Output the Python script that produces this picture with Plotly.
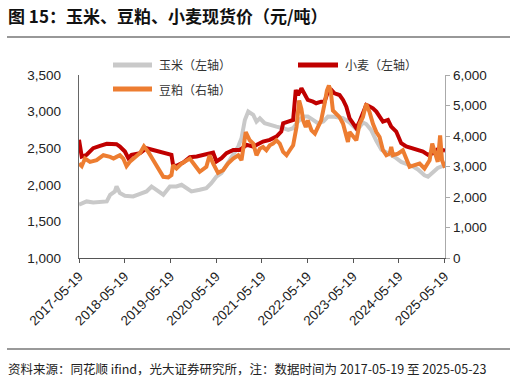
import plotly.graph_objects as go

# ---------------- data ----------------
corn_dates = ["2017-05-19","2017-07-19","2017-09-10","2017-11-03","2017-12-27","2018-01-23","2018-03-02","2018-03-15",
              "2018-04-11","2018-05-21","2018-07-26","2018-09-19","2018-11-10","2018-12-20","2019-01-30","2019-03-24",
              "2019-05-16","2019-07-07","2019-08-17","2019-09-26","2019-11-04","2020-01-09","2020-03-02","2020-04-11",
              "2020-05-22","2020-07-01","2020-08-10","2020-10-03","2020-11-12","2020-12-08","2021-01-04","2021-01-31",
              "2021-03-12","2021-04-07","2021-05-04","2021-06-11","2021-07-22","2021-09-13","2021-11-06","2021-12-16",
              "2022-01-25","2022-03-05","2022-04-15","2022-05-22","2022-07-03","2022-08-11","2022-09-23","2022-10-30",
              "2022-12-22","2023-02-28","2023-04-21","2023-06-14","2023-07-10","2023-08-06","2023-09-01","2023-10-10",
              "2023-11-21","2024-01-01","2024-02-22","2024-04-15","2024-06-07","2024-07-17","2024-09-09","2024-10-19",
              "2024-12-10","2025-01-07","2025-02-16","2025-03-26","2025-05-23"]
corn_values = [1727,1773,1759,1764,1773,1864,1909,1977,
               1886,1850,1841,1877,1909,1977,1932,1864,
               1977,1977,2000,1955,1909,1932,1955,2023,
               2114,2159,2273,2409,2523,2636,2886,3000,
               2955,2864,2909,2841,2818,2795,2773,2750,
               2773,2864,2932,2932,2886,2841,2864,2932,
               2930,2910,2850,2760,2790,2850,2830,2750,
               2600,2480,2430,2380,2313,2290,2250,2210,
               2130,2110,2180,2230,2270]

wheat_dates = ["2017-05-19","2017-06-10","2017-07-19","2017-09-10","2017-11-03","2017-12-27","2018-03-15","2018-04-11",
               "2018-05-21","2018-06-17","2018-07-13","2018-09-19","2018-11-10","2019-01-03","2019-02-25","2019-04-19",
               "2019-05-28","2019-06-10","2019-07-07","2019-08-30","2019-10-22","2019-12-16","2020-02-06","2020-03-17",
               "2020-04-25","2020-05-22","2020-07-01","2020-08-10","2020-10-03","2020-11-25","2021-01-19","2021-03-12",
               "2021-05-04","2021-05-29","2021-07-22","2021-09-13","2021-10-22","2021-11-06","2021-12-16","2022-01-25",
               "2022-02-15","2022-03-05","2022-04-01","2022-04-28","2022-05-22","2022-07-03","2022-07-28","2022-09-06",
               "2022-10-03","2022-10-30","2022-11-27","2022-12-22","2023-01-31","2023-02-28","2023-03-26","2023-04-21",
               "2023-05-19","2023-06-14","2023-07-10","2023-08-06","2023-09-01","2023-09-28","2023-10-25","2023-11-21",
               "2023-12-17","2024-01-13","2024-02-22","2024-03-19","2024-04-28","2024-06-07","2024-07-17","2024-09-09",
               "2024-10-19","2024-11-28","2025-01-07","2025-02-16","2025-03-26","2025-05-23"]
wheat_values = [2614,2386,2410,2500,2532,2560,2555,2523,
                2455,2364,2410,2432,2500,2477,2455,2432,
                2410,2273,2260,2305,2377,2386,2410,2432,
                2440,2318,2364,2432,2477,2477,2545,2523,
                2568,2591,2614,2659,2727,2841,2864,2886,
                3295,3227,3318,3227,3159,3136,3114,3136,
                3136,3273,3295,3250,3227,3159,3068,2909,
                2841,2773,2864,3000,3091,3068,3045,3000,
                2932,2864,2886,2795,2727,2568,2523,2500,
                2477,2455,2409,2432,2486,2468]

meal_dates = ["2017-05-19","2017-06-10","2017-07-06","2017-08-15","2017-10-07","2017-11-30","2018-01-23","2018-02-19",
              "2018-03-15","2018-04-11","2018-05-08","2018-06-03","2018-06-29","2018-08-08","2018-09-19","2018-10-20",
              "2018-11-24","2019-01-03","2019-02-13","2019-03-24","2019-05-03","2019-05-28","2019-06-10","2019-07-07",
              "2019-08-17","2019-09-26","2019-10-22","2019-12-01","2020-01-09","2020-03-02","2020-03-28","2020-04-25",
              "2020-06-03","2020-07-14","2020-08-22","2020-10-03","2020-11-12","2020-12-08","2021-01-11","2021-02-12",
              "2021-03-12","2021-04-07","2021-05-04","2021-05-29","2021-06-25","2021-07-22","2021-08-17","2021-09-13",
              "2021-10-10","2021-11-06","2021-12-03","2021-12-29","2022-01-25","2022-02-21","2022-03-14","2022-04-01",
              "2022-04-15","2022-05-06","2022-05-22","2022-06-21","2022-07-18","2022-08-11","2022-09-06","2022-10-03",
              "2022-10-22","2022-11-07","2022-11-21","2022-12-09","2023-01-05","2023-01-31","2023-02-28","2023-03-26",
              "2023-04-08","2023-04-21","2023-05-19","2023-06-14","2023-07-10","2023-08-06","2023-09-01","2023-09-28",
              "2023-10-25","2023-11-21","2023-12-17","2024-01-13","2024-02-09","2024-03-07","2024-03-19","2024-04-02",
              "2024-05-12","2024-06-20","2024-07-17","2024-08-13","2024-09-22","2024-11-01","2024-12-10","2025-01-20",
              "2025-02-10","2025-02-28","2025-03-26","2025-04-14","2025-04-29","2025-05-23"]
meal_values = [3098,3011,3261,3152,3206,3370,3315,3261,
               3315,3370,3261,3011,3152,3315,3446,3663,
               3478,3206,2935,2663,2641,2717,3043,2935,
               3098,3206,3261,3043,2826,2989,3370,3098,
               2793,2880,3098,3261,3370,3206,4130,3858,
               3750,3370,3587,3641,3533,3696,3750,3859,
               3750,3478,3370,3533,3696,4293,5163,4891,
               4511,4293,4511,4185,4076,4293,4511,5054,
               5489,5652,5489,4837,4728,4620,4402,4022,
               3804,4130,3967,3859,4402,4620,5054,4783,
               4402,4130,3967,3533,3370,3424,3641,3370,
               3424,3533,3261,2989,3043,3098,2935,3206,
               3750,3533,3152,4022,3206,2957]

tick_dates = ["2017-05-19","2018-05-19","2019-05-19","2020-05-19","2021-05-19",
              "2022-05-19","2023-05-19","2024-05-19","2025-05-19"]

series_names = ["玉米（左轴）", "小麦（左轴）", "豆粕（右轴）"]
title_text = "图 15：玉米、豆粕、小麦现货价（元/吨）"
source_text = "资料来源：同花顺 ifind，光大证券研究所，注：数据时间为 2017-05-19 至 2025-05-23"

# ---------------- styles ----------------
GRAY = "#C9C9C9"
RED = "#C00000"
ORANGE = "#ED7D31"
LW = 4
CJK = "Noto Sans CJK SC"
NUM = "Liberation Sans, Arial, sans-serif"

W, H = 516, 381
L, R, T, B = 79, 71, 75, 123
pw, ph = W - L - R, H - T - B

def px(x):
    return (x - L) / pw

def py(y):
    return (H - B - y) / ph

fig = go.Figure()
fig.add_trace(go.Scatter(x=corn_dates, y=corn_values, mode="lines", name=series_names[0],
                         line=dict(color=GRAY, width=LW), yaxis="y", showlegend=False))
fig.add_trace(go.Scatter(x=wheat_dates, y=wheat_values, mode="lines", name=series_names[1],
                         line=dict(color=RED, width=LW), yaxis="y", showlegend=False))
fig.add_trace(go.Scatter(x=meal_dates, y=meal_values, mode="lines", name=series_names[2],
                         line=dict(color=ORANGE, width=LW), yaxis="y2", showlegend=False))

fig.update_layout(
    width=W, height=H,
    margin=dict(l=L, r=R, t=T, b=B, pad=0),
    paper_bgcolor="white", plot_bgcolor="white",
    hovermode=False,
    font=dict(family=NUM, size=13, color="#222222"),
    xaxis=dict(type="date", range=["2017-05-19", "2025-05-23"], tickvals=tick_dates,
               ticktext=tick_dates, tickangle=-45, ticks="outside", ticklen=4,
               tickcolor="#555555", showline=True, linecolor="#555555", linewidth=1.3,
               showgrid=False, zeroline=False, automargin=False,
               tickfont=dict(family=NUM, size=13.5, color="#222222")),
    yaxis=dict(range=[1000, 3500], dtick=500, tickformat=",d", showline=True,
               linecolor="#666666", linewidth=1.3, ticks="", ticklabelstandoff=14,
               showgrid=False, zeroline=False, automargin=False,
               tickfont=dict(family=NUM, size=13.5, color="#222222")),
    yaxis2=dict(range=[0, 6000], dtick=1000, tickformat=",d", overlaying="y", side="right",
                showline=True, linecolor="#AAAAAA", linewidth=1.3, ticks="outside", ticklen=4,
                tickcolor="#AAAAAA", showgrid=False, zeroline=False, automargin=False,
                tickfont=dict(family=NUM, size=13.5, color="#222222")),
)

shapes = []
annotations = []
# title and separator lines
annotations.append(dict(text="<b>" + title_text + "</b>", xref="paper", yref="paper",
                        x=px(6), y=py(15), xanchor="left", yanchor="middle", showarrow=False,
                        font=dict(family=CJK, size=17, color="#111111")))
shapes.append(dict(type="line", xref="paper", yref="paper", x0=px(7), x1=px(510), y0=py(37), y1=py(37),
                   line=dict(color="#333333", width=1.2)))
shapes.append(dict(type="line", xref="paper", yref="paper", x0=px(7), x1=px(510), y0=py(349), y1=py(349),
                   line=dict(color="#777777", width=1.5)))
annotations.append(dict(text=source_text, xref="paper", yref="paper",
                        x=px(6), y=py(368), xanchor="left", yanchor="middle", showarrow=False,
                        font=dict(family=CJK, size=12.5, color="#222222")))

# legend samples
legend_items = [(GRAY, 113, 152, 65, 157), (RED, 298, 338, 65, 343), (ORANGE, 113, 152, 89, 157)]
for (col, x0, x1, yy, tx), name in zip(legend_items, series_names):
    shapes.append(dict(type="line", xref="paper", yref="paper", x0=px(x0), x1=px(x1), y0=py(yy), y1=py(yy),
                       line=dict(color=col, width=5)))
    annotations.append(dict(text=name, xref="paper", yref="paper", x=px(tx), y=py(yy),
                            xanchor="left", yanchor="middle", showarrow=False,
                            font=dict(family=CJK, size=12, color="#333333")))

fig.update_layout(shapes=shapes, annotations=annotations)
fig.write_html("out.html", config={"displayModeBar": False, "staticPlot": True},
               post_script="document.body.style.margin='0';document.body.style.overflow='hidden';")
